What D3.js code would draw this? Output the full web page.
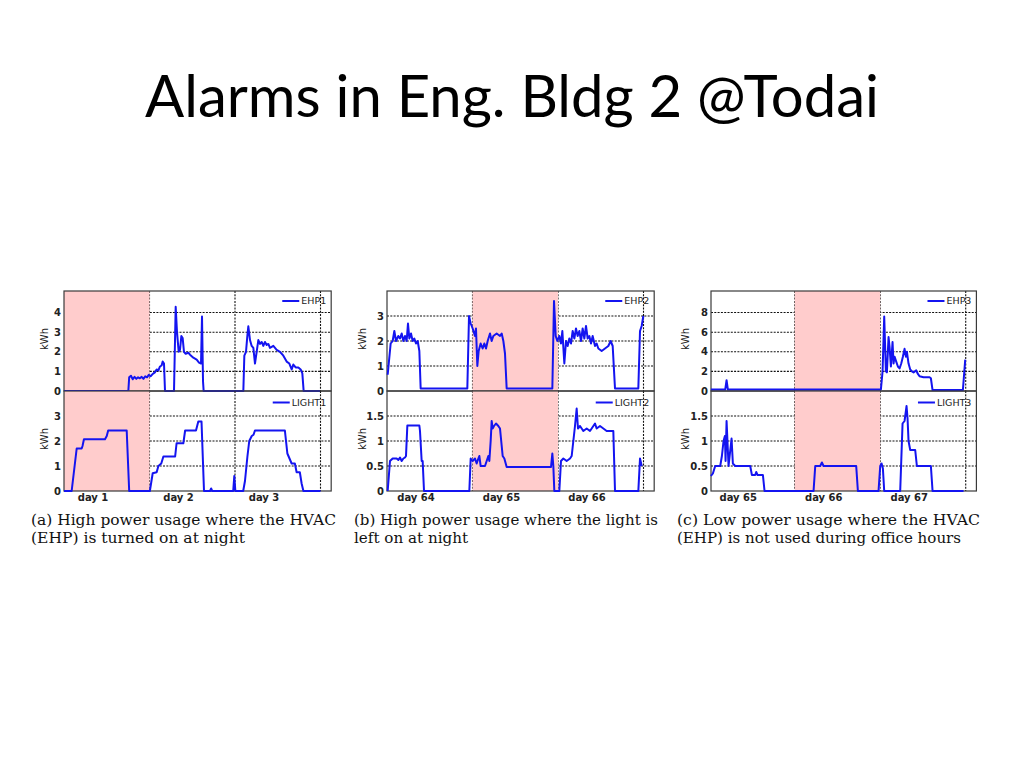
<!DOCTYPE html>
<html>
<head>
<meta charset="utf-8">
<script src="https://cdn.jsdelivr.net/npm/d3@7/dist/d3.min.js"></script>
<style>
  html, body { margin: 0; padding: 0; background: #ffffff; }
  svg { display: block; }
</style>
</head>
<body>
<svg id="chart" width="1024" height="768"></svg>
<script>
// ---------------- DATA (time in hours from the left edge of each panel, energy in kWh) ----------------
const titleText = "Alarms in Eng. Bldg 2 @Todai";

const dayLabelsA = ["day 1", "day 2", "day 3"];
const dayLabelsB = ["day 64", "day 65", "day 66"];
const dayLabelsC = ["day 65", "day 66", "day 67"];
const dayTickHours = [8, 32, 56];
const dayBoundaryHours = [24, 48, 72];

const ticksEHP1 = [0, 1, 2, 3, 4];
const ticksLIGHT1 = [0, 1, 2, 3];
const ticksEHP2 = [0, 1, 2, 3];
const ticksLIGHT2 = [0, 0.5, 1, 1.5];
const ticksEHP3 = [0, 2, 4, 6, 8];
const ticksLIGHT3 = [0, 0.5, 1, 1.5];

const alarmA = [0, 24];
const alarmB = [24, 48];
const alarmC = [24, 48];

const captionA = ["(a) High power usage where the HVAC", "(EHP) is turned on at night"];
const captionB = ["(b) High power usage where the light is", "left on at night"];
const captionC = ["(c) Low power usage where the HVAC", "(EHP) is not used during office hours"];

const tEHP1 = [0, 18.06, 18.3, 18.8, 19.3, 19.8, 20.3, 20.8, 21.3, 21.8, 22.3, 22.8, 23.3, 23.8, 24.3, 24.8, 25.5, 26.0, 26.5, 26.95, 27.4, 27.7, 28.07, 28.35,
  30.88, 31.35, 31.72, 32.19, 32.56, 32.94, 33.31, 33.68, 34.15, 34.9, 35.37, 36.3, 37.24, 37.9, 38.46, 38.74, 39.02, 39.2,
  50.34, 50.62, 51.09, 51.46, 51.74, 52.21, 52.68, 53.15, 53.61, 54.08, 54.55, 55.02, 55.49, 55.95, 56.42, 56.89, 57.36, 57.82, 58.76, 59.7, 60.63, 61.57, 62.5, 63.25, 63.91, 64.37, 65.03, 65.78, 66.43, 66.9, 67.27, 71.86];
const vEHP1 = [0, 0, 0.7, 0.78, 0.6, 0.72, 0.62, 0.7, 0.65, 0.72, 0.62, 0.75, 0.7, 0.82, 0.75, 0.85, 0.95, 1.1, 1.05, 1.25, 1.3, 1.5, 1.4, 0,
  0, 4.3, 3.0, 2.0, 2.1, 2.8, 2.7, 2.0, 1.9, 1.95, 1.85, 1.7, 1.6, 1.45, 1.4, 3.8, 0.5, 0,
  0, 1.8, 2.0, 2.8, 3.3, 2.6, 2.3, 2.2, 1.4, 2.0, 2.6, 2.4, 2.5, 2.3, 2.5, 2.35, 2.4, 2.2, 2.3, 2.1, 2.0, 1.8, 1.5, 1.4, 1.1, 1.35, 1.2, 1.2, 1.1, 0.9, 0, 0];

const tLIGHT1 = [0, 2.15, 3.56, 4.96, 5.2, 5.6, 11.5, 12.0, 12.4, 17.6, 18.3, 24.1, 24.9, 26.0, 26.5, 27.3, 27.9, 31.2, 31.6, 33.5, 34.0, 37.05, 37.7, 38.6, 39.3,
  41.0, 41.3, 41.6, 47.5, 47.8, 48.1, 50.3, 50.8, 51.5, 52.0, 52.7, 53.2, 53.6, 62.0, 62.7, 63.9, 64.8, 65.3, 66.2, 66.7, 67.2, 72];
const vLIGHT1 = [0, 0, 1.7, 1.7, 1.8, 2.07, 2.07, 2.2, 2.42, 2.42, 0, 0, 0.71, 0.75, 1.0, 1.1, 1.38, 1.38, 1.91, 1.91, 2.42, 2.42, 2.78, 2.78, 0,
  0, 0.1, 0, 0, 0.6, 0, 0, 0.4, 1.4, 2.0, 2.2, 2.25, 2.42, 2.42, 1.5, 1.1, 1.1, 0.75, 0.75, 0.3, 0, 0];

const tEHP2 = [0.19, 1.03, 1.59, 2.06, 2.53, 3.18, 3.65, 4.12, 4.59, 5.05, 5.52, 5.89, 6.27, 6.74, 7.2, 7.67, 8.14, 8.61, 9.08, 9.45,
  22.55, 23.02, 23.49, 24.05, 24.7, 24.98, 25.36, 25.73, 26.29, 26.85, 27.32, 27.79, 28.26, 28.91, 29.38, 29.85, 30.78, 31.72, 32.19, 32.66, 33.12, 33.59,
  46.41, 46.88, 47.35, 47.81, 48.37, 48.84, 49.22, 49.78, 50.25, 50.71, 51.18, 51.65, 52.12, 52.59, 53.05, 53.52, 53.99, 54.46, 54.92, 55.39, 55.86, 56.33, 56.8, 57.26, 57.73, 58.39, 58.85, 59.32, 60.26, 61.19, 62.13, 62.78, 63.35, 64.0,
  70.55, 71.02, 71.49, 71.95];
const vEHP2 = [0.65, 1.9, 2.0, 2.4, 2.0, 2.2, 2.1, 2.3, 2.0, 2.2, 2.0, 2.7, 2.1, 2.3, 2.0, 2.1, 1.9, 2.0, 1.6, 0.1,
  0.1, 3.0, 2.7, 2.5, 2.2, 2.5, 1.0, 1.6, 1.9, 1.7, 1.9, 1.7, 2.0, 2.3, 2.0, 2.2, 2.3, 2.2, 2.3, 2.0, 1.5, 0.1,
  0.1, 3.6, 2.2, 2.0, 2.2, 1.9, 2.4, 1.1, 2.0, 1.8, 2.1, 1.9, 2.4, 2.1, 2.5, 2.2, 2.4, 2.0, 2.5, 2.1, 2.6, 2.1, 2.2, 1.9, 2.2, 1.8, 1.9, 1.7, 1.6, 1.7, 1.8, 2.0, 1.8, 0.1,
  0.1, 2.4, 2.6, 3.0];

const tLIGHT2 = [0.19, 0.84, 1.59, 2.71, 3.18, 3.65, 4.12, 4.59, 5.05, 5.33, 5.71, 9.08, 9.26, 9.73, 10.01, 10.39,
  23.11, 23.49, 24.05, 24.7, 25.17, 25.64, 25.92, 26.29, 27.51, 27.98, 28.44, 28.73, 29.1, 29.38, 29.66, 30.04, 30.6, 31.25, 31.72, 32.47, 32.94, 33.59,
  46.04, 46.41, 46.69, 46.97, 48.37, 48.84, 49.5, 50.43, 51.37, 51.84, 52.77, 53.24, 53.61, 54.18, 55.11, 56.05, 56.98, 57.92, 58.39, 58.85, 59.79, 60.73, 61.66, 63.53, 64.0,
  70.55, 71.02, 71.49];
const vLIGHT2 = [0, 0.6, 0.65, 0.65, 0.62, 0.67, 0.6, 0.65, 0.67, 0.7, 1.31, 1.31, 1.2, 0.6, 0.6, 0,
  0, 0.65, 0.6, 0.65, 0.55, 0.65, 0.7, 0.5, 0.5, 0.6, 0.7, 0.6, 1.0, 1.4, 1.25, 1.3, 1.35, 1.3, 1.25, 0.7, 0.65, 0.48,
  0.48, 0.75, 0.5, 0, 0, 0.6, 0.65, 0.6, 0.65, 0.7, 1.3, 1.65, 1.25, 1.3, 1.2, 1.25, 1.2, 1.3, 1.35, 1.25, 1.3, 1.25, 1.2, 1.2, 0,
  0, 0.65, 0.5];

const tEHP3 = [0.47, 4.49, 4.87, 5.24, 48.19, 48.66, 49.12, 49.59, 49.87, 50.34, 50.62, 51.0, 51.46, 51.74, 52.02, 52.49, 52.96, 53.43, 53.9, 54.36, 54.83, 55.21, 55.49, 55.95, 56.42, 56.89, 57.36, 58.11, 58.48, 59.04, 60.16, 61.85, 62.22, 62.69, 71.21, 71.86];
const vEHP3 = [0.15, 0.15, 1.1, 0.15, 0.15, 2.0, 7.6, 2.0, 1.9, 5.5, 4.5, 2.5, 5.0, 2.8, 3.5, 3.0, 2.5, 2.3, 2.8, 3.5, 4.3, 3.5, 4.0, 2.8, 2.2, 2.0, 1.9, 2.1, 1.8, 1.5, 1.4, 1.4, 1.3, 0.1, 0.1, 3.2];

const tLIGHT3 = [0.47, 1.03, 1.68, 3.09, 3.56, 4.02, 4.4, 4.59, 4.87, 5.43, 6.27, 6.64, 7.3, 11.51, 11.98, 12.91, 13.19, 13.57, 15.07, 15.53,
  29.29, 29.76, 31.16, 31.63, 32.09, 41.26, 41.73, 47.53, 48.0, 48.38, 48.75, 49.12,
  53.61, 54.27, 54.83, 55.21, 55.39, 55.67, 55.95, 56.42, 57.82, 58.29, 62.22, 62.69, 71.39];
const vLIGHT3 = [0.3, 0.35, 0.5, 0.5, 0.7, 1.0, 1.1, 0.6, 1.4, 0.5, 1.05, 0.55, 0.5, 0.5, 0.32, 0.32, 0.38, 0.32, 0.32, 0,
  0, 0.5, 0.5, 0.57, 0.5, 0.5, 0, 0, 0.5, 0.55, 0.45, 0,
  0, 1.35, 1.4, 1.6, 1.7, 1.45, 1.0, 0.82, 0.82, 0.5, 0.5, 0, 0];

// ---------------- DRAWING ----------------
const svg = d3.select("#chart");
const LINE_COLOR = "#1414f0";
const PINK = "#ffcccc";
const FRAME = "#3a3a3a";
const TXT = "#222";

svg.append("text")
  .attr("x", 512).attr("y", 117)
  .attr("text-anchor", "middle")
  .attr("font-family", "Lato, 'Open Sans', sans-serif")
  .attr("font-size", 58)
  .attr("fill", "#000")
  .text(titleText);

const rows = [{ top: 291, bottom: 391 }, { top: 391, bottom: 491 }];

const panels = [
  { left: 64, domain: [0, 75], pink: alarmA, days: dayLabelsA, caption: captionA, capX: 31, capW: [305, 214], kx: 48,
    series: [{ name: "EHP1", t: tEHP1, v: vEHP1, ymax: 5.1, ticks: ticksEHP1 }, { name: "LIGHT1", t: tLIGHT1, v: vLIGHT1, ymax: 4, ticks: ticksLIGHT1 }] },
  { left: 387, domain: [0, 75], pink: alarmB, days: dayLabelsB, caption: captionB, capX: 354, capW: [304, 114], kx: 366,
    series: [{ name: "EHP2", t: tEHP2, v: vEHP2, ymax: 4, ticks: ticksEHP2 }, { name: "LIGHT2", t: tLIGHT2, v: vLIGHT2, ymax: 2, ticks: ticksLIGHT2 }] },
  { left: 711, domain: [0.5, 75], pink: alarmC, days: dayLabelsC, caption: captionC, capX: 677, capW: [303, 284], kx: 689,
    series: [{ name: "EHP3", t: tEHP3, v: vEHP3, ymax: 10.2, ticks: ticksEHP3 }, { name: "LIGHT3", t: tLIGHT3, v: vLIGHT3, ymax: 2, ticks: ticksLIGHT3 }] }
];

const PX_PER_HOUR = 3.5625;

panels.forEach(p => {
  const width = (p.domain[1] - p.domain[0]) * PX_PER_HOUR;
  const x = d3.scaleLinear().domain(p.domain).range([p.left, p.left + width]);
  const g = svg.append("g");

  p.series.forEach((s, i) => {
    const r = rows[i];
    const y = d3.scaleLinear().domain([0, s.ymax]).range([r.bottom, r.top]);

    // horizontal grid
    g.selectAll(null).data(s.ticks.filter(d => d > 0)).enter().append("line")
      .attr("x1", p.left).attr("x2", p.left + width)
      .attr("y1", d => y(d)).attr("y2", d => y(d))
      .attr("stroke", "#111").attr("stroke-width", 1.1).attr("stroke-dasharray", "2,1.3");
    // vertical day grid
    g.selectAll(null).data(dayBoundaryHours).enter().append("line")
      .attr("x1", d => x(d)).attr("x2", d => x(d))
      .attr("y1", r.top).attr("y2", r.bottom)
      .attr("stroke", "#111").attr("stroke-width", 1.1).attr("stroke-dasharray", "2,1.3");

    // alarm shading
    g.append("rect")
      .attr("x", x(Math.max(p.pink[0], p.domain[0]))).attr("y", r.top)
      .attr("width", x(p.pink[1]) - x(Math.max(p.pink[0], p.domain[0])))
      .attr("height", r.bottom - r.top)
      .attr("fill", PINK);

    // frame
    g.append("rect")
      .attr("x", p.left).attr("y", r.top).attr("width", width).attr("height", r.bottom - r.top)
      .attr("fill", "none").attr("stroke", FRAME).attr("stroke-width", 1.2);

    // data line
    const pts = s.t.map((t, k) => [t, s.v[k]]);
    g.append("path")
      .datum(pts)
      .attr("fill", "none").attr("stroke", LINE_COLOR).attr("stroke-width", 2)
      .attr("stroke-linejoin", "round")
      .attr("d", d3.line().x(d => x(d[0])).y(d => y(d[1])));

    // y axis
    const ya = g.append("g").attr("transform", `translate(${p.left},0)`)
      .call(d3.axisLeft(y).tickValues(s.ticks).tickFormat(d => String(d)).tickSize(0).tickPadding(3));
    ya.select(".domain").remove();
    ya.selectAll("text").attr("font-family", "'DejaVu Sans', sans-serif").attr("font-size", 10)
      .attr("font-weight", "bold").attr("fill", TXT);

    // y label
    g.append("text")
      .attr("transform", `translate(${p.kx},${(r.top + r.bottom) / 2 - 2}) rotate(-90)`)
      .attr("text-anchor", "middle")
      .attr("font-family", "'DejaVu Sans', sans-serif").attr("font-size", 10).attr("fill", TXT)
      .text("kWh");

    // legend
    const lx = p.left + width - 5;
    const ly = r.top + (i === 0 ? 10 : 11.5);
    const lt = g.append("text")
      .attr("x", lx).attr("y", ly).attr("dy", "0.35em")
      .attr("text-anchor", "end")
      .attr("font-family", "'DejaVu Sans', sans-serif").attr("font-size", 9.5).attr("fill", TXT)
      .text(s.name);
    const tw = lt.node().getComputedTextLength();
    g.append("line")
      .attr("x1", lx - tw - 19).attr("x2", lx - tw - 2)
      .attr("y1", ly).attr("y2", ly)
      .attr("stroke", LINE_COLOR).attr("stroke-width", 2);
  });

  // x axis (day labels)
  const xa = g.append("g").attr("transform", `translate(0,${rows[1].bottom})`)
    .call(d3.axisBottom(x).tickValues(dayTickHours).tickFormat((d, k) => p.days[k]).tickSize(0).tickPadding(3));
  xa.select(".domain").remove();
  xa.selectAll("text").attr("font-family", "'DejaVu Sans', sans-serif").attr("font-size", 10)
    .attr("font-weight", "bold").attr("fill", TXT);

  // caption
  p.caption.forEach((line, k) => {
    svg.append("text")
      .attr("x", p.capX).attr("y", 525 + k * 18)
      .attr("font-family", "'DejaVu Serif', serif").attr("font-size", 15)
      .attr("fill", "#111")
      .attr("textLength", p.capW[k]).attr("lengthAdjust", "spacingAndGlyphs")
      .text(line);
  });
});
</script>
</body>
</html>
